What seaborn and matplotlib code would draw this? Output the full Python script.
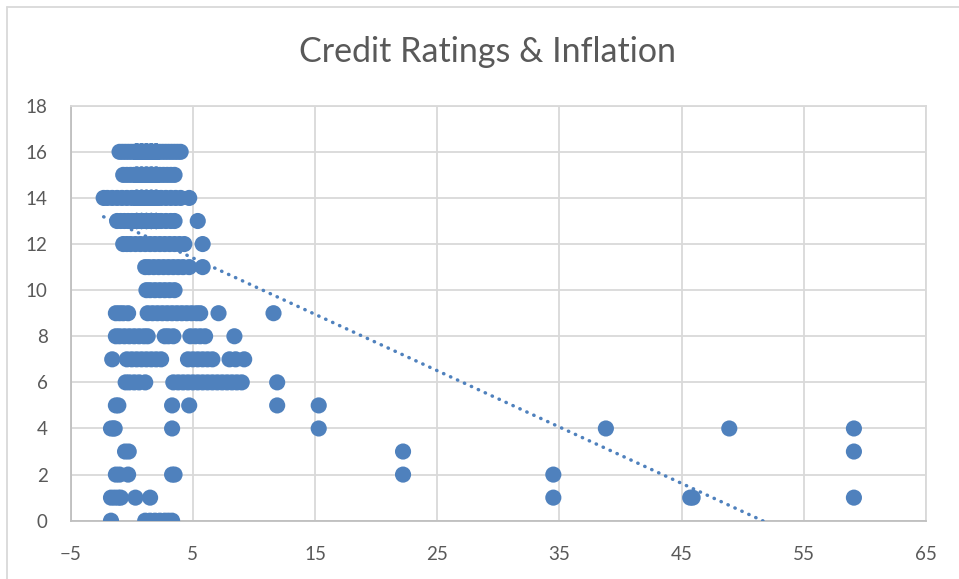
import matplotlib
matplotlib.use('Agg')
import matplotlib.pyplot as plt
from matplotlib.lines import Line2D
import seaborn as sns
import pandas as pd

# inflation (%) values per credit rating
rating_16 = [-1.0, -0.75, -0.5, -0.25, 0.0, 0.25, 0.5, 0.75, 1.0, 1.25, 1.5, 1.75,
             2.0, 2.25, 2.5, 2.75, 3.0, 3.25, 3.5, 3.75, 4.0]
rating_15 = [-0.7, -0.4, -0.1, 0.2, 0.5, 0.8, 1.1, 1.4, 1.7, 2.0, 2.3, 2.6, 2.9, 3.2, 3.5]
rating_14 = [-2.3, -2.0, -1.6, -1.2, -0.8, -0.4, 0.0, 0.4, 0.8, 1.2, 1.6, 2.0, 2.4,
             2.8, 3.2, 3.6, 4.0, 4.7]
rating_13 = [-1.2, -0.9, -0.6, -0.3, 0.0, 0.4, 0.8, 1.2, 1.6, 2.0, 2.4, 2.8, 3.2, 3.5, 5.4]
rating_12 = [-0.7, -0.4, -0.1, 0.3, 0.7, 1.1, 1.5, 1.9, 2.3, 2.7, 3.1, 3.5, 3.9, 4.3, 5.8]
rating_11 = [1.1, 1.4, 1.8, 2.2, 2.6, 3.0, 3.4, 3.8, 4.2, 4.7, 5.8]
rating_10 = [1.2, 1.5, 1.9, 2.3, 2.7, 3.1, 3.5]
rating_9 = [-1.3, -1.0, -0.7, -0.3, 1.3, 1.7, 2.1, 2.5, 2.9, 3.3, 3.7, 4.1, 4.5, 4.9,
            5.3, 5.6, 7.1, 11.6]
rating_8 = [-1.3, -1.0, -0.6, -0.2, 0.2, 0.6, 1.0, 1.3, 2.7, 3.0, 3.4, 4.8, 5.2, 5.6,
            6.0, 8.4]
rating_7 = [-1.6, -0.4, 0.0, 0.4, 0.8, 1.2, 1.6, 2.0, 2.4, 4.6, 5.0, 5.4, 5.8, 6.2,
            6.6, 8.0, 8.5, 9.2]
rating_6 = [-0.5, -0.2, 0.2, 0.6, 1.1, 3.4, 3.8, 4.2, 4.6, 5.0, 5.4, 5.8, 6.2, 6.6,
            7.0, 7.4, 7.8, 8.2, 8.6, 9.0, 11.9]
rating_5 = [-1.3, -1.1, 3.3, 4.7, 11.9, 15.3]
rating_4 = [-1.7, -1.5, -1.4, 3.3, 15.3, 38.8, 48.9, 59.1]
rating_3 = [-0.55, -0.25, 22.2, 59.1]
rating_2 = [-1.3, -1.0, -0.3, 3.3, 3.5, 22.2, 34.5]
rating_1 = [-1.7, -1.4, -1.1, -0.9, 0.3, 1.5, 34.5, 45.7, 45.9, 59.1]
rating_0 = [-1.7, 1.1, 1.5, 1.9, 2.3, 2.7, 3.0, 3.3]

# the top-rated cluster hides many overlapping observations (estimated)
stacked_x = [0.4, 0.8, 1.2, 1.6, 2.0]
stacked_ratings = [16, 16, 15, 14, 13]
stacked_repeats = 8

rows = {16: rating_16, 15: rating_15, 14: rating_14, 13: rating_13, 12: rating_12,
        11: rating_11, 10: rating_10, 9: rating_9, 8: rating_8, 7: rating_7,
        6: rating_6, 5: rating_5, 4: rating_4, 3: rating_3, 2: rating_2,
        1: rating_1, 0: rating_0}
records = [(x, r) for r, xs in rows.items() for x in xs]
records += [(x, r) for r in stacked_ratings for x in stacked_x] * stacked_repeats
df = pd.DataFrame(records, columns=['inflation', 'rating'])

x_ticks = [-5, 5, 15, 25, 35, 45, 55, 65]
y_ticks = [0, 2, 4, 6, 8, 10, 12, 14, 16, 18]

blue = '#4F81BD'
grid = '#D9D9D9'
text_c = '#595959'

sns.set_style('white')
plt.rcParams['font.family'] = ['Lato', 'DejaVu Sans']

fig = plt.figure(figsize=(9.59, 5.79), dpi=100)
ax = fig.add_axes([0.0737, 0.1007, 0.8919, 0.7167])

sns.scatterplot(data=df, x='inflation', y='rating', ax=ax, color=blue,
                s=135, edgecolor='none', alpha=1, zorder=3)
# linear trendline, Excel-style round dots
sns.regplot(data=df, x='inflation', y='rating', ax=ax, scatter=False, ci=None,
            truncate=True,
            line_kws={'color': blue, 'linewidth': 2.5, 'linestyle': (0, (0.1, 2.1)),
                      'dash_capstyle': 'round', 'zorder': 4})

ax.set_xlim(-5, 65)
ax.set_ylim(0, 18)
ax.set_xticks(x_ticks)
ax.set_yticks(y_ticks)
ax.grid(True, color=grid, linewidth=1.3, zorder=0)
ax.set_axisbelow(True)
for s in ax.spines.values():
    s.set_color(grid)
    s.set_linewidth(1.3)
ax.spines['left'].set_color('#BFBFBF')
ax.spines['bottom'].set_color('#BFBFBF')
ax.tick_params(length=0, labelsize=13.5, colors=text_c, pad=18)
ax.tick_params(axis='y', pad=16.5)
ax.set_xlabel('')
ax.set_ylabel('')

fig.text(0.508, 0.91, 'Credit Ratings & Inflation', ha='center', va='center',
         fontsize=24.5, color=text_c)

# chart area border
fig.add_artist(Line2D([6.5 / 959, 1], [1 - 7 / 579, 1 - 7 / 579], color=grid, lw=1.3))
fig.add_artist(Line2D([6.5 / 959, 6.5 / 959], [0, 1 - 7 / 579], color=grid, lw=1.3))

fig.savefig('out.png', dpi=100)
